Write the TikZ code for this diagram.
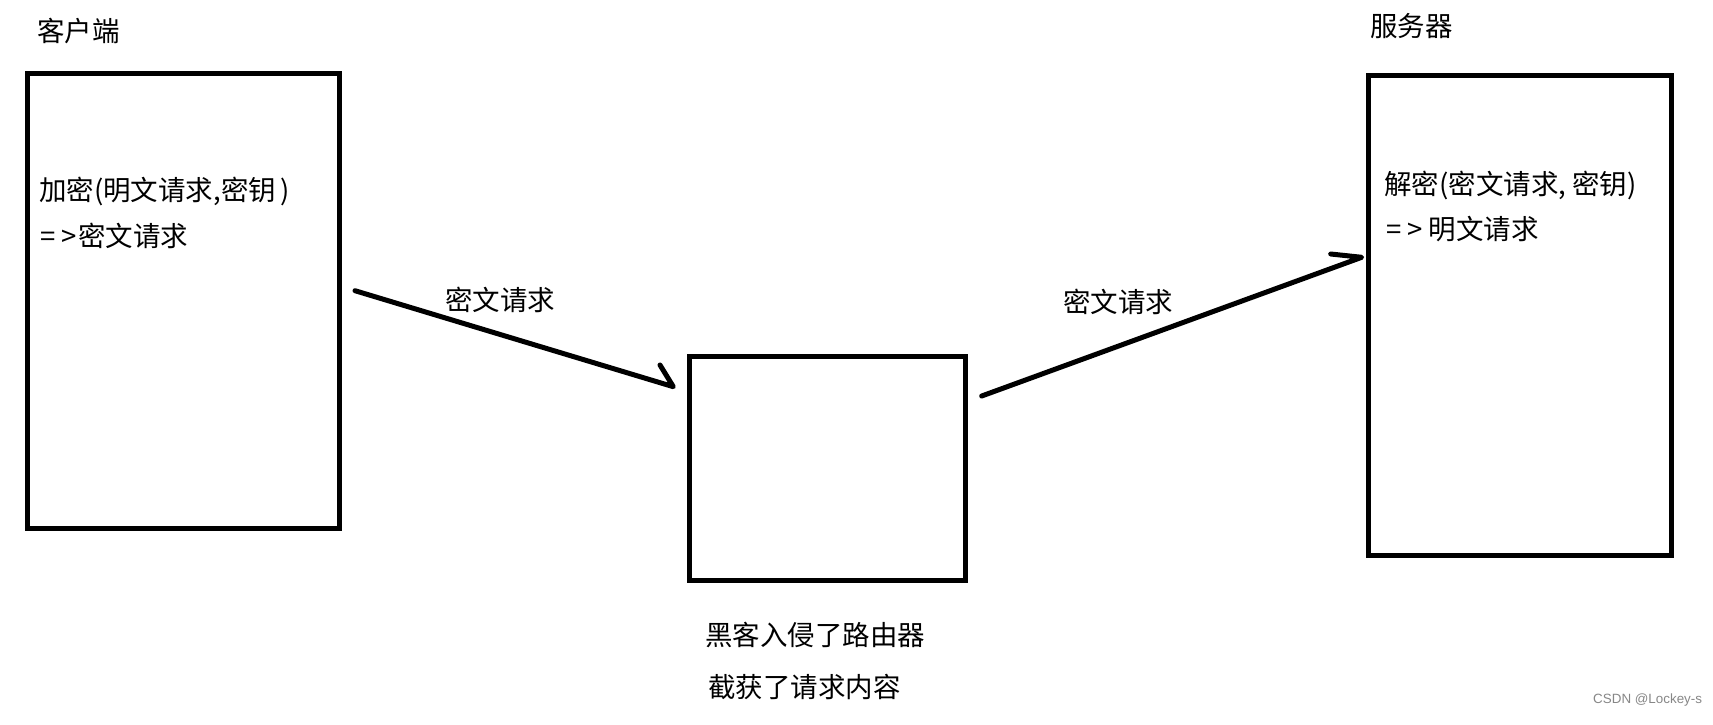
\documentclass[tikz,border=0pt]{standalone}
\usepackage{fontspec}
\newfontfamily\cjk{Noto Sans CJK SC}
\newfontfamily\wmfont{Liberation Sans}
\newcommand{\arrowsym}[1]{=\hspace{6pt}>\hspace{#1}}
\begin{document}
\begin{tikzpicture}[x=1pt,y=-1pt,
  box/.style={draw=black, line width=5pt, inner sep=0pt, anchor=north west},
  lbl/.style={font=\cjk\fontsize{27.5}{32}\selectfont, inner sep=0pt, anchor=west},
  clbl/.style={font=\cjk\fontsize{27.5}{32}\selectfont, inner sep=0pt},
  conn/.style={draw=black, line width=5pt, line cap=round, line join=round}]
\useasboundingbox[fill=white] (0,0) rectangle (1713,725);

\node[box, minimum width=312pt, minimum height=454.5pt] (client) at (25,71.5) {};
\node[box, minimum width=276.3pt, minimum height=224pt] (router) at (686.7,354.3) {};
\node[box, minimum width=303pt, minimum height=480pt] (server) at (1366,73.3) {};

\node[lbl] (clienttitle) at (37,31) {客户端};
\node[lbl] (servertitle) at (1370,26) {服务器};
\node[lbl] (enc1) at (39,192) {加密(明文请求,密钥\hspace{4pt})};
\node[lbl] (enc2) at (40,236) {\arrowsym{1.5pt}密文请求};
\node[lbl] (dec1) at (1384,185.5) {解密(密文请求, 密钥)};
\node[lbl] (dec2) at (1386,229.5) {\arrowsym{6pt}明文请求};
\node[lbl] (hack1) at (705,635) {黑客入侵了路由器};
\node[lbl] (hack2) at (708,686.5) {截获了请求内容};
\node[clbl] (m1) at (500,300) {密文请求};
\node[clbl] (m2) at (1118,301.5) {密文请求};

\coordinate (a1s) at (355,290.7);
\coordinate (a1e) at (673.3,386.7);
\coordinate (a1b) at (660,365);
\coordinate (a2s) at (981.7,396);
\coordinate (a2e) at (1361.7,257.3);
\coordinate (a2b) at (1330.7,254);

\draw[conn] (a1s) -- (a1e) -- (a1b);
\draw[conn] (a2s) -- (a2e) -- (a2b);

\node[font=\wmfont\fontsize{13.4}{16}\selectfont, text=black!47, inner sep=0pt, anchor=west] (wm) at (1593,700) {CSDN @Lockey-s};
\end{tikzpicture}
\end{document}
